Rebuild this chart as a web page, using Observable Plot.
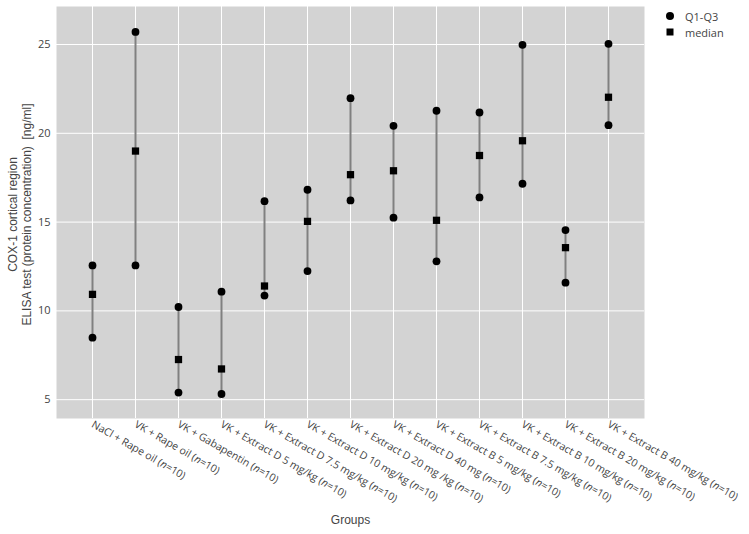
<!DOCTYPE html>
<html>
<head>
<meta charset="utf-8">
<script src="https://cdn.jsdelivr.net/npm/d3@7"></script>
<script src="https://cdn.jsdelivr.net/npm/@observablehq/plot@0.6"></script>
<style>
  html, body { margin: 0; padding: 0; background: #fff; }
  #wrap { position: relative; width: 749px; height: 534px; font-family: "Open Sans", sans-serif; }
  #legend { position: absolute; left: 664px; top: 8px; font-size: 11px; color: #444; }
  #legend div { display: flex; align-items: center; height: 16px; }
  #legend svg { margin-right: 9px; }
</style>
</head>
<body>
<div id="wrap">
  <div id="chart"></div>
  <div id="legend">
    <div><svg width="12" height="12"><circle cx="6" cy="6" r="4" fill="#000"/></svg>Q1-Q3</div>
    <div><svg width="12" height="12"><rect x="2.5" y="2.5" width="7" height="7" fill="#000"/></svg>median</div>
  </div>
</div>
<script>
const groups = [
  "NaCl + Rape oil (n=10)",
  "VK + Rape oil (n=10)",
  "VK + Gabapentin (n=10)",
  "VK + Extract D 5 mg/kg (n=10)",
  "VK + Extract D 7.5 mg/kg (n=10)",
  "VK + Extract D 10 mg/kg (n=10)",
  "VK + Extract D 20 mg /kg (n=10)",
  "VK + Extract D 40 mg (n=10)",
  "VK + Extract B 5 mg/kg (n=10)",
  "VK + Extract B 7.5 mg/kg (n=10)",
  "VK + Extract B 10 mg/kg (n=10)",
  "VK + Extract B 20 mg/kg (n=10)",
  "VK + Extract B 40 mg/kg (n=10)"
];
const q1 =     [8.49, 12.56, 5.40, 5.32, 10.86, 12.24, 16.22, 15.25, 12.79, 16.39, 17.16, 11.59, 20.46];
const median = [10.93, 19.00, 7.26, 6.73, 11.40, 15.04, 17.67, 17.89, 15.10, 18.75, 19.58, 13.56, 22.03];
const q3 =     [12.56, 25.71, 10.22, 11.08, 16.18, 16.82, 21.98, 20.42, 21.27, 21.17, 24.98, 14.55, 25.04];
const yTicks = [5, 10, 15, 20, 25];
const yLabel = "COX-1 cortical region\nELISA test (protein concentration)\u00a0 [ng/ml]";
const xLabel = "Groups";

const data = groups.map((g, i) => ({group: g, q1: q1[i], median: median[i], q3: q3[i]}));
const quartiles = data.flatMap(d => [{group: d.group, v: d.q1}, {group: d.group, v: d.q3}]);

const chart = Plot.plot({
  width: 749,
  height: 534,
  marginLeft: 56,
  marginRight: 105,
  marginTop: 6,
  marginBottom: 116,
  style: {fontFamily: "'Open Sans', sans-serif", color: "#444", background: "#fff"},
  x: {type: "point", domain: groups, padding: 0.785},
  y: {domain: [3.94, 27.14]},
  marks: [
    Plot.frame({fill: "#d3d3d3", stroke: null}),
    Plot.gridX({stroke: "#fff", strokeOpacity: 1, strokeWidth: 1}),
    Plot.gridY(yTicks, {stroke: "#fff", strokeOpacity: 1, strokeWidth: 1}),
    Plot.axisY(yTicks, {tickSize: 0, tickPadding: 6, fontSize: 11, label: null}),
    Plot.axisX({tickSize: 0, tickPadding: 5, tickRotate: 30, fontSize: 10.5, label: null}),
    Plot.ruleX(data, {x: "group", y1: "q1", y2: "q3", stroke: "#808080", strokeWidth: 2}),
    Plot.dot(quartiles, {x: "group", y: "v", r: 3.9, fill: "#000", symbol: "circle"}),
    Plot.dot(data, {x: "group", y: "median", r: 4.1, fill: "#000", symbol: "square"}),
    Plot.text([yLabel], {frameAnchor: "left", textAnchor: "middle", lineAnchor: "middle", dx: -37, dy: 2, rotate: -90,
      fontSize: 12, lineHeight: 1.2, fill: "#444", fontFamily: "'Liberation Sans', Arial, sans-serif"}),
    Plot.text([xLabel], {frameAnchor: "bottom", dy: 105, fontSize: 12, fill: "#444", fontFamily: "'Liberation Sans', Arial, sans-serif"})
  ]
});
document.getElementById("chart").appendChild(chart);

// italic "n" in the group tick labels
d3.select(chart).selectAll('[aria-label="x-axis tick label"] text').each(function() {
  const t = this.textContent;
  const k = t.indexOf("(n=");
  if (k < 0) return;
  const el = d3.select(this);
  el.text(null);
  el.append("tspan").text(t.slice(0, k + 1));
  el.append("tspan").attr("font-style", "italic").text("n");
  el.append("tspan").text(t.slice(k + 2));
});
</script>
</body>
</html>
